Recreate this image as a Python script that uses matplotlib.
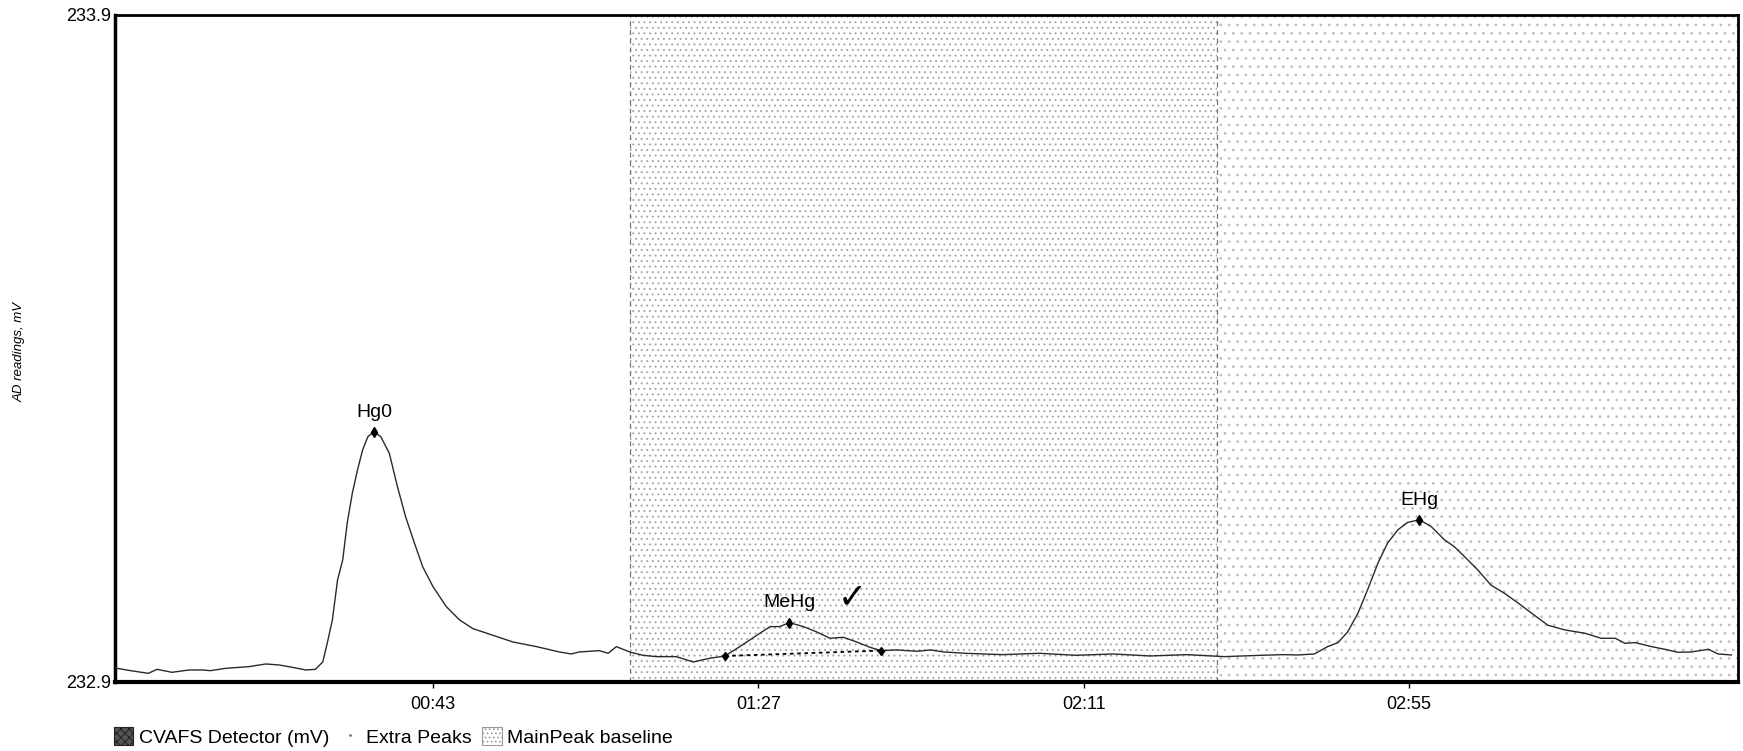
import matplotlib
matplotlib.use('Agg')
import matplotlib.pyplot as plt
from matplotlib.patches import Patch
from matplotlib.lines import Line2D

# ---------------- data ----------------
time_s = [0.0, 2.1, 4.5, 5.7, 7.7, 10.0, 11.8, 12.9, 15.0, 18.1, 20.4, 22.2, 24.0, 25.8,
          27.1, 28.1, 28.7, 29.4, 30.1, 30.8, 31.4, 32.1, 32.8, 33.5, 34.2, 35.05, 35.95,
          37.1, 38.2, 39.3, 40.5, 41.6, 43.0, 44.8, 46.6, 48.4, 51.1, 53.8, 57.0, 60.1,
          61.7, 62.8, 65.5, 66.7, 67.8, 69.6, 71.4, 73.2, 75.9, 78.2, 80.4, 82.5, 84.5,
          86.8, 88.6, 89.9, 91.2, 93.1, 94.9, 96.7, 98.5, 100.3, 102.1, 103.6, 105.7,
          108.5, 110.3, 112.1, 115.0, 120.0, 125.0, 130.0, 135.0, 140.0, 145.0, 150.0,
          155.0, 158.0, 160.0, 162.2, 164.0, 165.4, 166.7, 168.1, 169.4, 170.8, 172.1,
          173.5, 174.8, 176.4, 178.0, 179.8, 181.1, 182.5, 184.3, 186.1, 187.9, 189.8,
          191.6, 193.8, 196.1, 198.8, 201.0, 202.9, 204.2, 205.6, 207.8, 209.6, 211.4,
          213.2, 215.5, 216.8, 218.6]
signal_mv = [232.921, 232.917, 232.913, 232.919, 232.9145, 232.918, 232.918, 232.917,
             232.9205, 232.923, 232.927, 232.9255, 232.922, 232.918, 232.919, 232.930,
             232.958, 232.993, 233.053, 233.083, 233.138, 233.183, 233.218, 233.248,
             233.2675, 233.275, 233.2675, 233.2426, 233.1926, 233.1476, 233.108, 233.073,
             233.043, 233.013, 232.993, 232.980, 232.970, 232.960, 232.953, 232.945,
             232.942, 232.945, 232.947, 232.943, 232.953, 232.945, 232.940, 232.938,
             232.938, 232.930, 232.9355, 232.939, 232.953, 232.970, 232.983, 232.983,
             232.989, 232.983, 232.975, 232.9655, 232.967, 232.960, 232.952, 232.947,
             232.948, 232.946, 232.948, 232.945, 232.943, 232.941, 232.943, 232.940,
             232.942, 232.939, 232.941, 232.938, 232.940, 232.941, 232.9405, 232.942,
             232.953, 232.959, 232.975, 233.003, 233.038, 233.078, 233.108, 233.128,
             233.139, 233.143, 233.133, 233.113, 233.103, 233.088, 233.068, 233.045,
             233.033, 233.018, 233.003, 232.985, 232.978, 232.973, 232.9655, 232.9655,
             232.958, 232.959, 232.953, 232.949, 232.9445, 232.945, 232.949, 232.942,
             232.9405]

peak_labels = ['Hg0', 'MeHg', 'EHg']
peak_t = [35.05, 91.2, 176.4]
peak_v = [233.275, 232.989, 233.143]

mehg_baseline_t = [82.5, 103.6]
mehg_baseline_v = [232.939, 232.947]

region_bounds = [69.7, 149.0, 219.5]

tick_seconds = [43, 87, 131, 175]
tick_labels = ['00:43', '01:27', '02:11', '02:55']
y_ticks = [232.9, 233.9]
y_tick_labels = ['232.9', '233.9']
x_range = [0.0, 219.5]

legend_labels = ['CVAFS Detector (mV)', 'Extra Peaks', 'MainPeak baseline']

# ---------------- plot ----------------
plt.rcParams['font.family'] = ['Liberation Sans', 'DejaVu Sans']
plt.rcParams['hatch.linewidth'] = 0.7

W, H = 1743, 751
fig = plt.figure(figsize=(W / 100, H / 100), dpi=100)
ax = fig.add_axes([115 / W, 1 - 682 / H, (1738 - 115) / W, (682 - 14.5) / H])

# shaded (dotted) regions
ax.axvspan(region_bounds[0], region_bounds[1], facecolor='white', edgecolor='#a8a8a8',
           hatch='...', lw=0, zorder=0)
ax.axvspan(region_bounds[1], region_bounds[2], facecolor='white', edgecolor='#bdbdbd',
           hatch='..', lw=0, zorder=0)
for b in region_bounds[:2]:
    ax.axvline(b, color='#777777', ls=(0, (4, 3)), lw=0.9, zorder=1)

# trace
ax.plot(time_s, signal_mv, color='#2a2a2a', lw=1.0, zorder=3)

# MeHg baseline
ax.plot(mehg_baseline_t, mehg_baseline_v, color='black', ls=(0, (2, 2)), lw=1.3, zorder=4)
ax.plot(mehg_baseline_t, mehg_baseline_v, ls='none', marker='d', ms=4.5, color='black', zorder=5)

# peaks
ax.plot(peak_t, peak_v, ls='none', marker='d', ms=5, color='black', zorder=5)
for lab, t, v in zip(peak_labels, peak_t, peak_v):
    ax.annotate(lab, (t, v), xytext=(0, 8), textcoords='offset points',
                ha='center', va='bottom', fontsize=14, zorder=6)

# check mark next to MeHg
ax.annotate('\u2713', (peak_t[1], peak_v[1]), xytext=(45.5, 18), textcoords='offset points',
            ha='center', va='center', fontsize=25, family=['DejaVu Sans'], zorder=6)

ax.set_xlim(*x_range)
ax.set_ylim(y_ticks[0], y_ticks[1])
ax.set_xticks(tick_seconds, tick_labels)
ax.set_yticks(y_ticks, y_tick_labels)
ax.tick_params(axis='x', length=4, width=1, pad=6, labelsize=13)
ax.tick_params(axis='y', length=0, pad=3, labelsize=13)

for side, lw in [('bottom', 3.0), ('left', 2.5), ('top', 2.0), ('right', 2.0)]:
    ax.spines[side].set_linewidth(lw)
    ax.spines[side].set_color('black')

fig.text(20 / W, 1 - 352 / H, 'AD readings, mV', rotation=90, ha='center', va='center',
         fontsize=9.5, style='italic')

handles = [
    Patch(facecolor='#555555', edgecolor='#222222', hatch='xxxx', lw=0.8),
    Line2D([0], [0], ls='none', marker='.', ms=2, color='#777777'),
    Patch(facecolor='white', edgecolor='#999999', hatch='....', lw=0.8),
]
fig.legend(handles, legend_labels, loc='center left', bbox_to_anchor=(114 / W, 1 - 737 / H),
           ncol=3, frameon=False, fontsize=14, handlelength=1.0, handleheight=1.0,
           handletextpad=0.3, columnspacing=0.55, borderpad=0, borderaxespad=0)

fig.savefig('out.png', dpi=100)
